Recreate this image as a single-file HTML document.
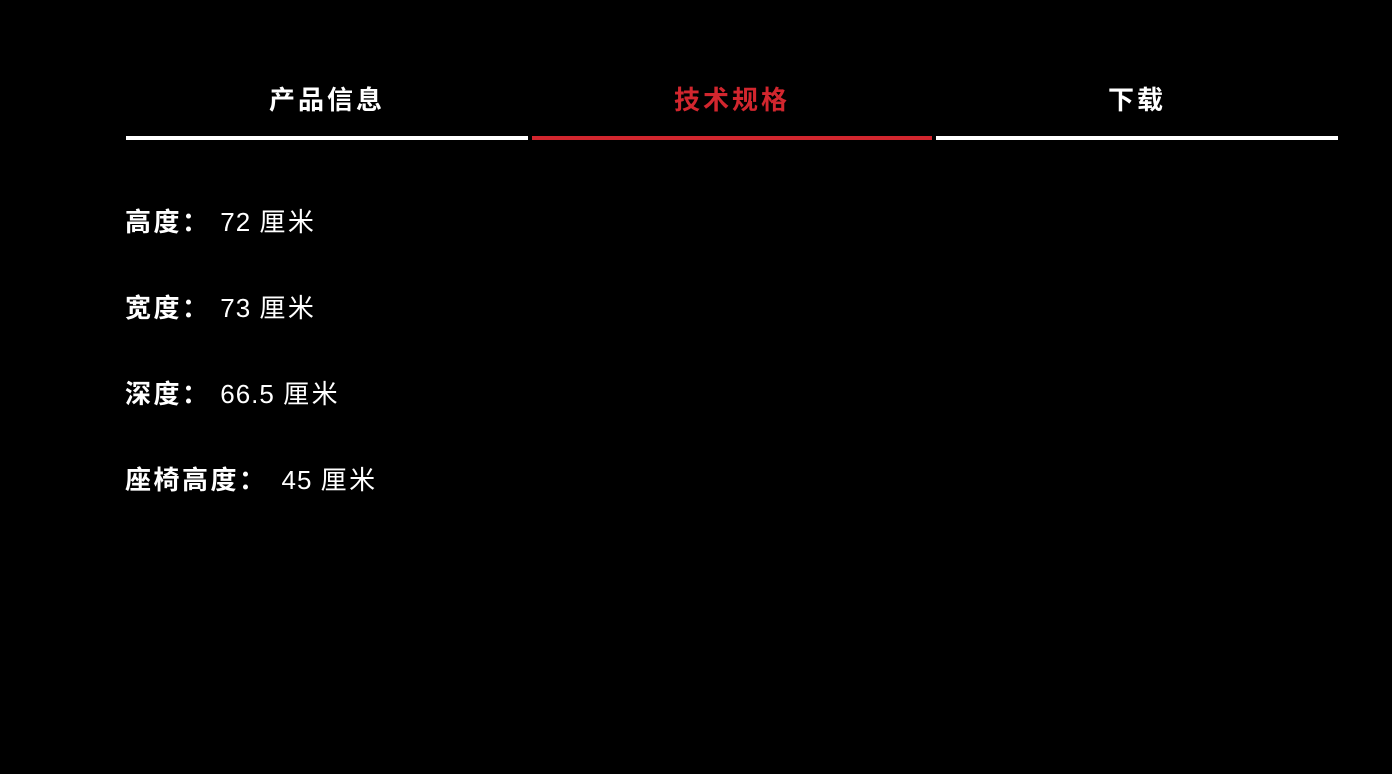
<!DOCTYPE html>
<html><head><meta charset="utf-8"><style>
html,body{margin:0;padding:0;background:#000;width:1392px;height:774px;overflow:hidden}
body{font-family:"Liberation Sans","Noto Sans CJK SC",sans-serif;color:#fff}
.tab{position:absolute;top:80px;height:40px;line-height:40px;text-align:center;font-size:26px;font-weight:bold;letter-spacing:3px}
.bar{position:absolute;top:136px;height:4px;background:#fff}
.row{position:absolute;left:125px;font-size:26px;letter-spacing:2.5px;line-height:30px;white-space:pre}
.row b{font-weight:bold}
.n{letter-spacing:1px}
</style></head><body>
<div class="tab" style="left:126px;width:402px">产品信息</div>
<div class="tab" style="left:532px;width:400px;color:#d2262e">技术规格</div>
<div class="tab" style="left:936px;width:402px">下载</div>
<div class="bar" style="left:126px;width:402px"></div>
<div class="bar" style="left:532px;width:400px;background:#d2262e"></div>
<div class="bar" style="left:936px;width:402px"></div>
<div class="row" style="top:207px"><b>高度：</b> <span class="n">72 </span>厘米</div>
<div class="row" style="top:293px"><b>宽度：</b> <span class="n">73 </span>厘米</div>
<div class="row" style="top:379px"><b>深度：</b> <span class="n">66.5 </span>厘米</div>
<div class="row" style="top:465px"><b>座椅高度：</b><span class="n" style="margin-left:14px">45 </span>厘米</div>
</body></html>
